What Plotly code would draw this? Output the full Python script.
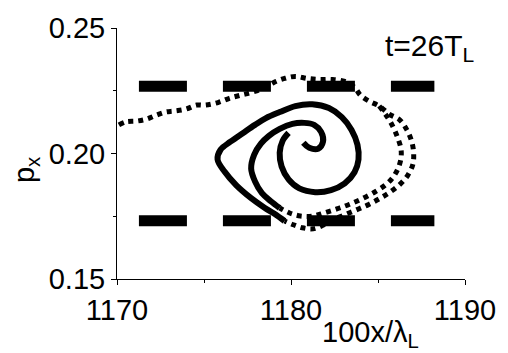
import plotly.graph_objects as go

FONT = "Arial, Liberation Sans, sans-serif"

# Horizontal dashed reference levels of p_x
level_x = [1171.26, 1188.24]
p_upper = 0.2268
p_lower = 0.1732

# Sparse outer filament: incoming arm along the top, outer right arc, lower bottom
outer_x = [1170.11, 1170.51, 1171.13, 1171.70, 1172.27, 1172.78, 1173.29, 1173.97,
           1174.59, 1175.10, 1175.84, 1176.46, 1177.08, 1177.76, 1178.44, 1179.01,
           1179.63, 1180.25, 1180.93, 1181.61, 1182.35, 1183.09, 1183.65, 1183.99,
           1184.50, 1185.07, 1185.64, 1186.26, 1186.66, 1186.94, 1187.05, 1187.00,
           1186.71, 1186.26, 1185.69, 1185.13, 1184.50, 1183.88, 1183.20, 1182.52,
           1181.90, 1181.27, 1180.65, 1180.14, 1179.63]
outer_p = [0.2114, 0.2126, 0.2129, 0.2137, 0.2153, 0.2165, 0.2169, 0.2177,
           0.2193, 0.2193, 0.2204, 0.2220, 0.2232, 0.2244, 0.2260, 0.2283,
           0.2299, 0.2307, 0.2299, 0.2295, 0.2295, 0.2287, 0.2264, 0.2232,
           0.2208, 0.2189, 0.2157, 0.2133, 0.2094, 0.2047, 0.1999, 0.1956,
           0.1913, 0.1877, 0.1846, 0.1822, 0.1798, 0.1779, 0.1759, 0.1739,
           0.1716, 0.1700, 0.1704, 0.1716, 0.1731]

# Sparse inner filament: inner right arc and upper bottom branch
inner_x = [1185.07, 1185.58, 1185.92, 1186.15, 1186.32, 1186.32, 1186.15, 1185.86,
           1185.47, 1184.90, 1184.16, 1183.37, 1182.63, 1181.90, 1181.27, 1180.54,
           1179.92, 1179.35]
inner_p = [0.2189, 0.2141, 0.2098, 0.2059, 0.2019, 0.1980, 0.1940, 0.1905,
           0.1877, 0.1850, 0.1822, 0.1798, 0.1779, 0.1763, 0.1751, 0.1751,
           0.1763, 0.1783]

# Dense spiral arm 1: left "<" branch, over the top, round the core
arm1_x = [1179.63, 1179.07, 1178.50, 1177.71, 1176.86, 1176.18, 1175.78, 1175.95,
          1176.52, 1177.25, 1177.93, 1178.56, 1179.35, 1180.25, 1181.22, 1182.18,
          1182.92, 1183.48, 1183.82, 1183.88, 1183.65, 1183.09, 1182.30, 1181.39,
          1180.48, 1179.86, 1179.46, 1179.35, 1179.52, 1179.86]
arm1_p = [0.1731, 0.1759, 0.1783, 0.1822, 0.1873, 0.1928, 0.1976, 0.2015,
          0.2047, 0.2082, 0.2114, 0.2141, 0.2165, 0.2189, 0.2196, 0.2181,
          0.2145, 0.2094, 0.2035, 0.1976, 0.1925, 0.1881, 0.1854, 0.1846,
          0.1861, 0.1897, 0.1948, 0.2003, 0.2051, 0.2082]

# Dense spiral arm 2: middle branch ending in the central hook
arm2_x = [1179.35, 1178.84, 1178.33, 1177.93, 1177.71, 1177.88, 1178.27, 1178.73,
          1179.35, 1180.08, 1180.76, 1181.33, 1181.73, 1181.84, 1181.56, 1181.05,
          1180.71]
arm2_p = [0.1783, 0.1810, 0.1842, 0.1889, 0.1940, 0.1995, 0.2039, 0.2070,
          0.2098, 0.2118, 0.2122, 0.2114, 0.2086, 0.2047, 0.2019, 0.2023,
          0.2043]

fig = go.Figure()

for p in (p_upper, p_lower):
    fig.add_trace(go.Scatter(
        x=level_x, y=[p, p], mode="lines",
        line=dict(color="black", width=11, dash="48px,36px"),
        hoverinfo="skip"))

for xs, ps in ((outer_x, outer_p), (inner_x, inner_p)):
    fig.add_trace(go.Scatter(
        x=xs, y=ps, mode="lines",
        line=dict(color="black", width=5, dash="5px,5px", shape="spline", smoothing=1),
        hoverinfo="skip"))

for xs, ps in ((arm1_x, arm1_p), (arm2_x, arm2_p)):
    fig.add_trace(go.Scatter(
        x=xs, y=ps, mode="lines",
        line=dict(color="black", width=6, shape="spline", smoothing=1),
        hoverinfo="skip"))

axis_common = dict(
    showline=True, linecolor="black", linewidth=1,
    ticks="outside", ticklen=5, tickcolor="black", tickwidth=1,
    showgrid=False, zeroline=False,
    tickfont=dict(family=FONT, size=29, color="black"),
)

fig.update_layout(
    width=508, height=353,
    margin=dict(l=117, r=38, t=25, b=74),
    paper_bgcolor="white", plot_bgcolor="white",
    showlegend=False,
    xaxis=dict(range=[1170, 1190], tick0=1170, dtick=10,
               minor=dict(dtick=5, ticks="outside", ticklen=3, tickcolor="black"),
               **axis_common),
    yaxis=dict(range=[0.15, 0.25], tick0=0.15, dtick=0.05, tickformat=".2f",
               minor=dict(dtick=0.025, ticks="outside", ticklen=3, tickcolor="black"),
               **axis_common),
    annotations=[
        dict(text="t=26T<sub>L</sub>", xref="paper", yref="paper",
             x=0.765, y=0.923, xanchor="left", yanchor="middle",
             showarrow=False, font=dict(family=FONT, size=30, color="black")),
        dict(text="100x/λ<sub>L</sub>", xref="paper", yref="paper",
             x=0.584, y=-0.218, xanchor="left", yanchor="middle",
             showarrow=False, font=dict(family=FONT, size=29, color="black")),
        dict(text="p<sub>x</sub>", xref="paper", yref="paper",
             x=-0.263, y=0.436, xanchor="center", yanchor="middle",
             textangle=-90, showarrow=False,
             font=dict(family=FONT, size=29, color="black")),
    ],
)

fig.write_html("out.html")
